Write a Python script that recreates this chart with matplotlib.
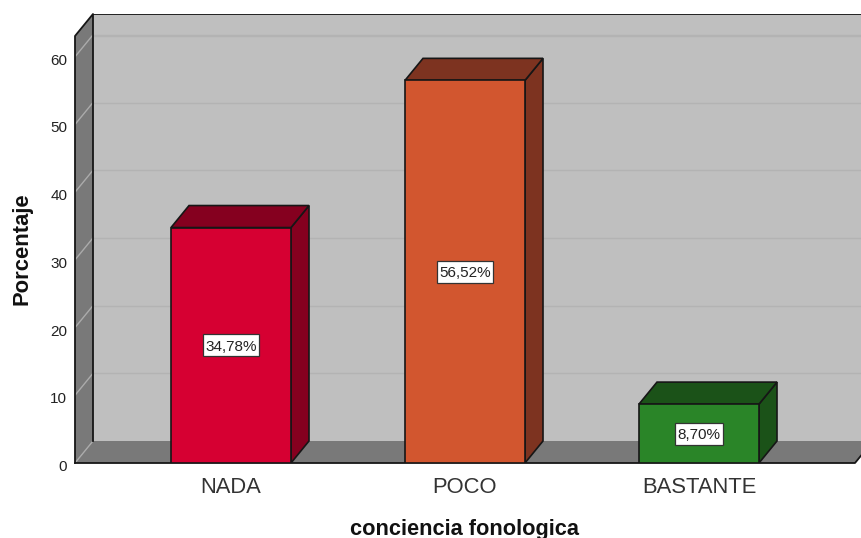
import matplotlib
matplotlib.use("Agg")
import matplotlib.pyplot as plt
from matplotlib.patches import Polygon, Rectangle
from matplotlib.transforms import IdentityTransform, ScaledTranslation

categories = ["NADA", "POCO", "BASTANTE"]
percentages = [34.78, 56.52, 8.70]
value_labels = ["34,78%", "56,52%", "8,70%"]
y_ticks = [0, 10, 20, 30, 40, 50, 60]
front_colors = ["#d60032", "#d2562f", "#2a8528"]
top_colors = ["#85001f", "#7d3320", "#1b5218"]
side_colors = ["#85001f", "#7d3320", "#1b5218"]

W, H = 861, 538
plt.rcParams["font.family"] = ["Liberation Sans", "DejaVu Sans"]
fig = plt.figure(figsize=(W / 100, H / 100), dpi=100)

# Axes span from the front-left floor corner to the top of the back wall
left, right, bottom, top = 75, 861, 463, 14
ax = fig.add_axes([left / W, 1 - bottom / H, (right - left) / W, (bottom - top) / H])
px_per_unit = 6.77
px_per_cat = 234
ax.set_xlim((left - 231) / px_per_cat, (right - 231) / px_per_cat)
ax.set_ylim(0, (bottom - top) / px_per_unit)

# Oblique depth of the pseudo-3D box
dx = 18 / px_per_cat
dy = 22 / px_per_unit
bar_w = 120 / px_per_cat
x0 = ax.get_xlim()[0]
x1 = (855 - 231) / px_per_cat
ymax = ax.get_ylim()[1]
ytop = ymax - dy

EDGE = "#161616"
WALL = "#bfbfbf"
DARK = "#797979"

ax.add_patch(Rectangle((x0 + dx, dy), x1 - x0, ytop, fc=WALL, ec="none", zorder=1))
ax.add_patch(Polygon([(x0, 0), (x1, 0), (x1 + dx, dy), (x0 + dx, dy)], fc=DARK, ec="none", zorder=1))
ax.add_patch(Polygon([(x0, 0), (x0 + dx, dy), (x0 + dx, ymax), (x0, ytop)], fc=DARK, ec="none", zorder=1))

# Gridlines on the back wall and their continuation across the left wall
for t in y_ticks[1:]:
    ax.plot([x0 + dx, x1 + dx], [t + dy, t + dy], color="#b3b3b3", lw=1.0, zorder=2)
for t in y_ticks:
    ax.plot([x0, x0 + dx], [t, t + dy], color="#ababab", lw=1.0, zorder=2)
ax.plot([x0 + dx, x1 + dx], [ytop, ytop], color="#b3b3b3", lw=1.0, zorder=2)

# Box outline
ax.plot([x0, x0, x0 + dx, x0 + dx], [0, ytop, ymax, dy], color=EDGE, lw=1.3, zorder=3, clip_on=False)
ax.plot([x0 + dx, x1 + dx + 1], [ymax, ymax], color=EDGE, lw=1.3, zorder=3)
ax.plot([x0, x1, x1 + dx], [0, 0, dy], color=EDGE, lw=1.3, zorder=3, clip_on=False)

# Bars: front face, top face and right side
value_texts = []
for i, v in enumerate(percentages):
    xl, xr = i - bar_w / 2, i + bar_w / 2
    ax.add_patch(Polygon([(xr, 0), (xr + dx, dy), (xr + dx, v + dy), (xr, v)],
                         fc=side_colors[i], ec=EDGE, lw=1.2, zorder=4))
    ax.add_patch(Polygon([(xl, v), (xr, v), (xr + dx, v + dy), (xl + dx, v + dy)],
                         fc=top_colors[i], ec=EDGE, lw=1.2, zorder=4))
    ax.add_patch(Rectangle((xl, 0), bar_w, v, fc=front_colors[i], ec=EDGE, lw=1.2, zorder=5))
    value_texts.append(ax.text(i, v / 2, value_labels[i], ha="center", va="center_baseline",
                               fontsize=11, color="#222222", zorder=7))

ax.set_xticks(range(len(categories)))
ax.set_xticklabels(categories, fontsize=15.8, color="#333333")
ax.set_yticks(y_ticks)
ax.set_yticklabels([str(t) for t in y_ticks], fontsize=11, color="#222222")
ax.tick_params(axis="both", length=0)
ax.tick_params(axis="x", pad=10)
ax.tick_params(axis="y", pad=5.5)

# Value labels sit slightly below their gridline ends
shift = ScaledTranslation(0, -2.5 / 100, fig.dpi_scale_trans)
for lab in ax.get_yticklabels():
    lab.set_transform(lab.get_transform() + shift)

for s in ax.spines.values():
    s.set_visible(False)

fig.text(465 / W, 1 - 529 / H, "conciencia fonologica", ha="center", va="center",
         fontsize=15.7, fontweight="bold", color="#111111")
fig.text(22 / W, 1 - 249 / H, "Porcentaje", ha="center", va="center", rotation=90,
         fontsize=15.8, fontweight="bold", color="#111111")

# White label plates, taller than the text, sized from the rendered text extents
renderer = fig.canvas.get_renderer()
for t, v, i in zip(value_texts, percentages, range(len(percentages))):
    ext = t.get_window_extent(renderer)
    cy = ax.transData.transform((i, v / 2))[1]
    ax.add_patch(Rectangle((ext.x0 - 2.5, cy - 11), ext.width + 5, 22, transform=IdentityTransform(),
                           fc="white", ec="#333333", lw=0.9, zorder=6))

fig.savefig("out.png", dpi=100)
